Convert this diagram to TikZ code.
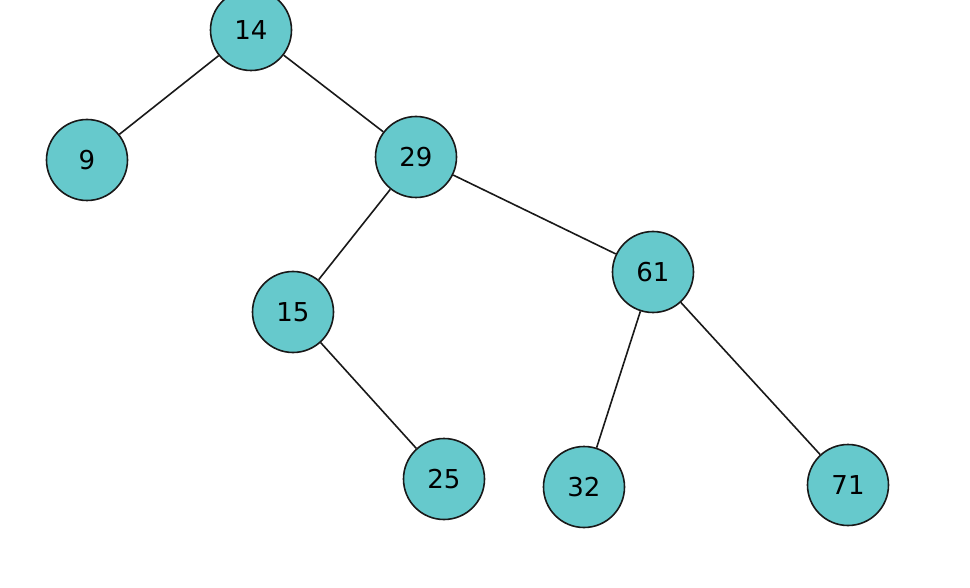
\documentclass[tikz,border=0pt]{standalone}
\usepackage{fontspec}
\setmainfont{DejaVu Sans}
\definecolor{nodefill}{HTML}{66C9CC}
\begin{document}
\begin{tikzpicture}[x=1pt,y=-1pt,
  tnode/.style={circle,draw=black!90,line width=1.6pt,fill=nodefill,minimum size=81pt,inner sep=0pt,font=\fontsize{26}{26}\selectfont},
  edge/.style={line width=1.6pt,draw=black!90}]
\useasboundingbox (0,0) rectangle (970,588);
\node[tnode] (n14) at (251,30) {14};
\node[tnode] (n9) at (87,160) {9};
\node[tnode] (n29) at (416,157) {29};
\node[tnode] (n15) at (293,312) {\raisebox{-18pt}{15}};
\node[tnode] (n61) at (653,272) {61};
\node[tnode] (n25) at (444,479) {25};
\node[tnode] (n32) at (584,487) {32};
\node[tnode] (n71) at (848,485) {71};
\draw[edge] (n14) -- (n9);
\draw[edge] (n14) -- (n29);
\draw[edge] (n29) -- (n15);
\draw[edge] (n29) -- (n61);
\draw[edge] (n15) -- (n25);
\draw[edge] (n61) -- (n32);
\draw[edge] (n61) -- (n71);
\end{tikzpicture}
\end{document}
